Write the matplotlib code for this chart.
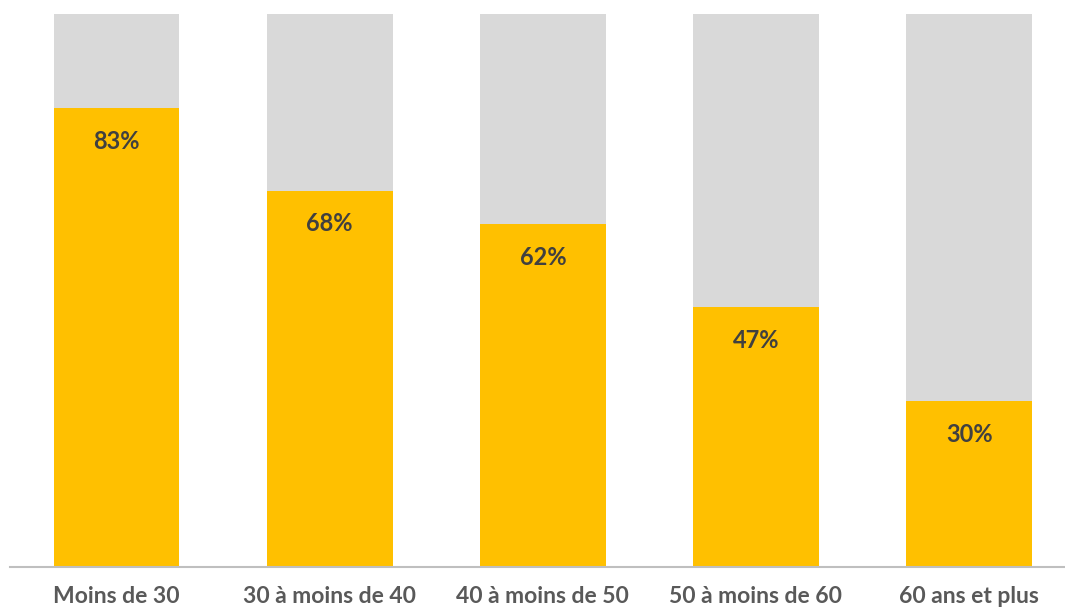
import matplotlib.pyplot as plt

categories = ['Moins de 30', '30 à moins de 40', '40 à moins de 50', '50 à moins de 60', '60 ans et plus']
values = [83, 68, 62, 47, 30]
rest = [100 - v for v in values]

plt.rcParams['font.family'] = ['Lato', 'DejaVu Sans']

fig = plt.figure(figsize=(10.65, 6.13), dpi=100)
ax = fig.add_axes([10 / 1065, 46 / 613, 1 - 10 / 1065, (567 - 14) / 613])

x = range(len(categories))
ax.bar(x, values, width=0.59, color='#FFC000')
ax.bar(x, rest, bottom=values, width=0.59, color='#D9D9D9')

for i, v in enumerate(values):
    ax.annotate(f'{v}%', (i, v), xytext=(0, -33), textcoords='offset pixels',
                ha='center', va='center', fontsize=17, fontweight='bold', color='#404040')

ax.set_xlim(-0.5, 4.45)
ax.set_ylim(0, 100)
ax.set_xticks(list(x))
ax.set_xticklabels(categories, fontsize=16.5, fontweight='bold', color='#595959')
ax.tick_params(axis='x', length=0, pad=14)
ax.set_yticks([])
for s in ['top', 'right', 'left']:
    ax.spines[s].set_visible(False)
ax.spines['bottom'].set_color('#BFBFBF')
ax.spines['bottom'].set_linewidth(1.5)

fig.savefig('out.png', dpi=100)
